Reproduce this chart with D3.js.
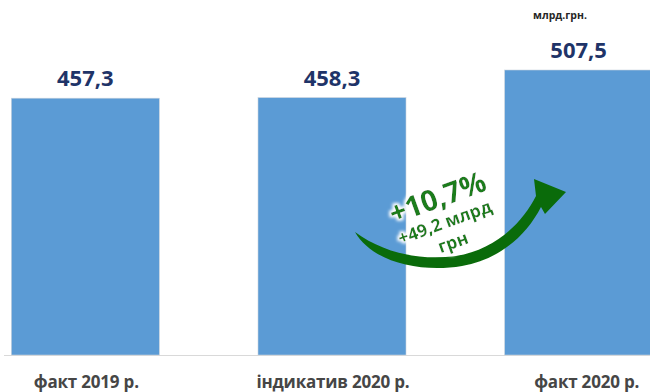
<!DOCTYPE html>
<html><head><meta charset="utf-8">
<script src="https://cdn.jsdelivr.net/npm/d3@7"></script>
<style>html,body{margin:0;padding:0;background:#fff;overflow:hidden}</style>
</head><body>
<svg id="c" width="650" height="392"></svg>
<script>
const categories = ["факт 2019 р.", "індикатив 2020 р.", "факт 2020 р."];
const values = [457.3, 458.3, 507.5];
const valueLabels = ["457,3", "458,3", "507,5"];
const unitLabel = "млрд.грн.";
const growthLabels = ["+10,7%", "+49,2 млрд", "грн"];

const FONT = "Open Sans, Liberation Sans, Arial, sans-serif";
const svg = d3.select("#c");
const x = d3.scaleBand().domain(categories).range([-38, 702]).paddingInner(0.4).paddingOuter(0.2);
const y = d3.scaleLinear().domain([0, 507.5]).range([355, 70]);

const defs = svg.append("defs");
const f = defs.append("filter").attr("id","glow").attr("x","-20%").attr("y","-40%").attr("width","140%").attr("height","180%");
f.append("feMorphology").attr("in","SourceAlpha").attr("operator","dilate").attr("radius",2.2).attr("result","d");
f.append("feGaussianBlur").attr("in","d").attr("stdDeviation",1.4).attr("result","b");
f.append("feFlood").attr("flood-color","#ffffff");
f.append("feComposite").attr("in2","b").attr("operator","in").attr("result","w");
const m = f.append("feMerge"); m.append("feMergeNode").attr("in","w"); m.append("feMergeNode").attr("in","SourceGraphic");

// axis baseline
svg.append("line").attr("x1",4).attr("x2",650).attr("y1",355.5).attr("y2",355.5)
  .attr("stroke","#d9d9d9").attr("stroke-width",1);

svg.selectAll("rect.bar").data(values).join("rect").attr("class","bar")
  .attr("x",(d,i)=>x(categories[i])).attr("width",x.bandwidth())
  .attr("y",d=>y(d)).attr("height",d=>y(0)-y(d))
  .attr("fill","#5b9bd5").attr("stroke","#c9d3dc").attr("stroke-width",0.6);

svg.selectAll("text.val").data(values).join("text").attr("class","val")
  .attr("x",(d,i)=>x(categories[i])+x.bandwidth()/2).attr("y",d=>y(d)-12)
  .attr("text-anchor","middle").attr("font-family",FONT)
  .attr("font-weight","bold").attr("font-size",22).attr("fill","#1f3468")
  .text((d,i)=>valueLabels[i]);

svg.selectAll("text.cat").data(categories).join("text").attr("class","cat")
  .attr("x",(d,i)=>x(d)+x.bandwidth()/2+(i===2?8:1)).attr("y",388)
  .attr("text-anchor","middle").attr("font-family",FONT)
  .attr("font-weight","bold").attr("font-size",17).attr("letter-spacing",-0.2).attr("fill","#464646")
  .text(d=>d);

svg.append("text").attr("x",560).attr("y",19).attr("text-anchor","middle")
  .attr("font-family",FONT).attr("font-weight","bold")
  .attr("font-size",10.5).attr("fill","#262626").text(unitLabel);

// growth arrow
svg.append("path")
  .attr("d","M355,232 C372,262 420,273 462,266 C500,259 526,236 541,207 L545,214 L566,192 L534,179 L536,196 C522,224 494,250 456,256 C418,261 382,252 355,232 Z")
  .attr("fill","#0a6b0a");

const g = svg.append("g").attr("filter","url(#glow)").attr("fill","#1f7d1f")
  .attr("font-family",FONT).attr("font-weight","bold").attr("text-anchor","middle");
g.append("text").attr("transform","translate(441,207) rotate(-20)").attr("font-size",29).text(growthLabels[0]);
g.append("text").attr("transform","translate(447,228) rotate(-20)").attr("font-size",17.5).text(growthLabels[1]);
g.append("text").attr("transform","translate(455,248) rotate(-20)").attr("font-size",17.5).text(growthLabels[2]);
</script>
</body></html>
